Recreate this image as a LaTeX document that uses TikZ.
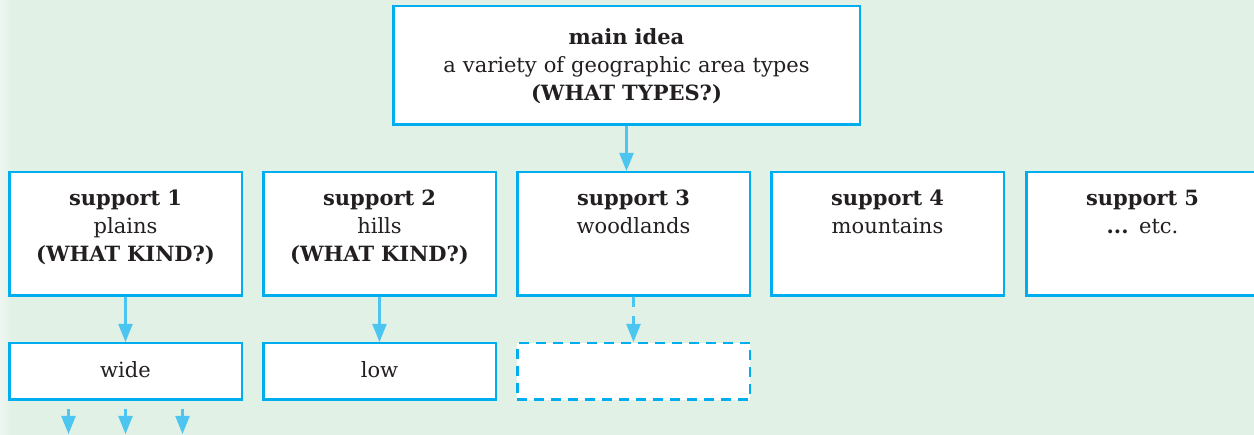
\documentclass[tikz,border=0pt]{standalone}
\usepackage{fontspec}
\setmainfont{DejaVu Serif}
\usepackage{xcolor}
\usepackage{tikz}
\usetikzlibrary{arrows.meta,positioning}
\definecolor{bgmint}{HTML}{E1F1E6}
\definecolor{bgedge}{HTML}{EDF6F0}
\definecolor{boxcyan}{HTML}{00AEEF}
\definecolor{arrowcyan}{HTML}{4CC6F0}
\definecolor{inkdark}{HTML}{231F20}
\tikzset{every node/.append style={font=\rmfamily\fontsize{21}{28}\selectfont,text=inkdark}}

\begin{document}
\begin{tikzpicture}[x=1pt,y=-1pt,>={Triangle[width=14pt,length=18pt]},
  mainbox/.style={draw=boxcyan,line width=2.5pt,fill=white,inner sep=0pt,
    text width=466.5pt,align=center,text height=38.75pt,text depth=79.75pt},
  supportbox/.style={draw=boxcyan,line width=2.5pt,fill=white,inner sep=0pt,
    text width=232.5pt,align=center,text height=33.75pt,text depth=89.75pt},
  detailbox/.style={draw=boxcyan,line width=2.5pt,fill=white,inner sep=0pt,
    minimum width=232.5pt,minimum height=56.5pt,text height=17pt,text depth=5pt},
  blankbox/.style={detailbox,dash pattern=on 10pt off 7pt},
  link/.style={->,arrowcyan,line width=2.2pt},
  dashlink/.style={link,dash pattern=on 10pt off 9pt}]
  \useasboundingbox (0,0) rectangle (1254,435);
  \fill[bgmint] (0,0) rectangle (1254,435);
  \shade[left color=bgedge,right color=bgmint] (0,0) rectangle (12,435);

  % main idea
  \node[mainbox] (main) at (626.5,65.5)
    {\textbf{main idea}\\a variety of geographic area types\\\textbf{(WHAT TYPES?)}};

  % supports
  \node[supportbox,anchor=north west] (sup1) at (8,171)
    {\textbf{support 1}\\plains\\\textbf{(WHAT KIND?)}};
  \node[supportbox,right=19pt of sup1] (sup2)
    {\textbf{support 2}\\hills\\\textbf{(WHAT KIND?)}};
  \node[supportbox,right=19pt of sup2] (sup3)
    {\textbf{support 3}\\woodlands};
  \node[supportbox,right=19pt of sup3] (sup4)
    {\textbf{support 4}\\mountains};
  \node[supportbox,right=20pt of sup4] (sup5)
    {\textbf{support 5}\\\textbf{...} etc.};

  % details
  \node[detailbox,below=45pt of sup1] (wide) {wide};
  \node[detailbox,below=45pt of sup2] (low) {low};
  \node[blankbox,below=45pt of sup3] (blank) {};

  \draw[link] (main.south) -- (main.south |- sup3.north);
  \draw[link] (sup1) -- (wide);
  \draw[link] (sup2) -- (low);
  \draw[dashlink] (sup3) -- (blank);

  \coordinate (edge) at (0,434);
  \foreach \dx [count=\i] in {-57,0,57} {
    \coordinate (wout\i) at ([xshift=\dx pt,yshift=-8pt]wide.south);
    \coordinate (wend\i) at (wout\i |- edge);
    \draw[link] (wout\i) -- (wend\i);
  }
\end{tikzpicture}
\end{document}
